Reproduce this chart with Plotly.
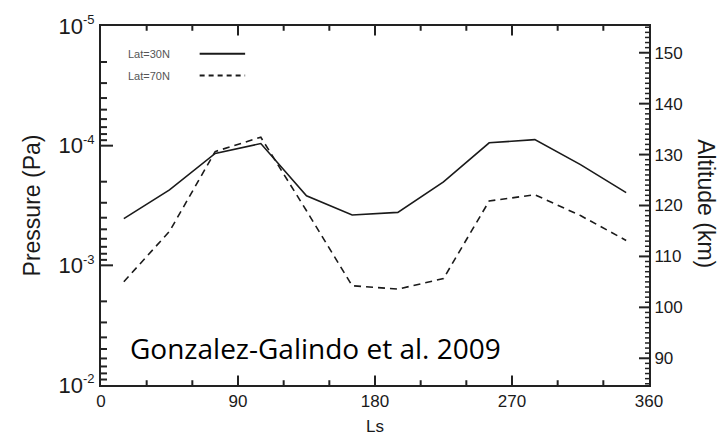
import math
import plotly.graph_objects as go

# ---- data ----
ls = [15, 45, 75, 105, 135, 165, 195, 225, 255, 285, 315, 345]
p_lat30 = [4.07e-4, 2.34e-4, 1.16e-4, 9.6e-5, 2.62e-4, 3.8e-4, 3.61e-4, 2.01e-4, 9.46e-5, 8.9e-5, 1.44e-4, 2.47e-4]
p_lat70 = [1.37e-3, 5.2e-4, 1.12e-4, 8.5e-5, 3.5e-4, 1.48e-3, 1.58e-3, 1.29e-3, 2.9e-4, 2.57e-4, 3.84e-4, 6.2e-4]
series_names = ["Lat=30N", "Lat=70N"]
x_major = [0, 90, 180, 270, 360]
x_minor = [30, 60, 120, 150, 210, 240, 300, 330]
p_ticks = [1e-5, 1e-4, 1e-3, 1e-2]
p_exponents = ["-5", "-4", "-3", "-2"]
p_minor = [m * 10.0 ** e for e in (-5, -4, -3) for m in range(2, 10)]
alt_major = [90, 100, 110, 120, 130, 140, 150]
alt_minor = [a for a in range(85, 156) if a % 10 != 0]
citation = "Gonzalez-Galindo et al. 2009"

INK = "#1a1a1a"
AX = "#222222"
FONT = "Liberation Sans, Arial, sans-serif"
X_RANGE = [0, 360]
P_RANGE = [-2, -5]          # log10 range, reversed (low pressure at top)
ALT_RANGE = [84.75, 155.25]
W, H = 722, 445
ML, MR, MT, MB = 101, 73, 12, 57
PW, PH = W - ML - MR, H - MT - MB

p_ticktext = ["10<sup><span style='font-size:13px'>%s</span></sup>" % e for e in p_exponents]

fig = go.Figure()
fig.add_trace(go.Scatter(x=ls, y=p_lat30, mode="lines", name=series_names[0],
                         line=dict(color=INK, width=1.6), showlegend=False))
fig.add_trace(go.Scatter(x=ls, y=p_lat70, mode="lines", name=series_names[1],
                         line=dict(color=INK, width=1.6, dash="7px,5px"), showlegend=False))
fig.add_trace(go.Scatter(x=[], y=[], yaxis="y2", showlegend=False, hoverinfo="skip"))

# ---- inward tick marks as line segments in the main subplot's own coordinates ----
x_per_px = (X_RANGE[1] - X_RANGE[0]) / PW
dec_per_px = abs(P_RANGE[1] - P_RANGE[0]) / PH
p_bottom = 10.0 ** P_RANGE[0]
p_top = 10.0 ** P_RANGE[1]

def alt_to_p(a):
    f = (a - ALT_RANGE[0]) / (ALT_RANGE[1] - ALT_RANGE[0])
    return 10.0 ** (P_RANGE[0] + f * (P_RANGE[1] - P_RANGE[0]))

def add_ticks(segments, width):
    xs, ys = [], []
    for x0, y0, x1, y1 in segments:
        xs += [x0, x1, None]
        ys += [y0, y1, None]
    fig.add_trace(go.Scatter(x=xs, y=ys, mode="lines", line=dict(color=AX, width=width),
                             cliponaxis=False, showlegend=False, hoverinfo="skip"))

def x_segments(vals, length_px):
    d = length_px * dec_per_px
    segs = []
    for v in vals:
        segs.append((v, p_bottom, v, p_bottom * 10.0 ** (-d)))
        segs.append((v, p_top, v, p_top * 10.0 ** d))
    return segs

add_ticks(x_segments(x_major[1:-1], 10), 2)
add_ticks(x_segments(x_minor, 5), 2)
add_ticks([(X_RANGE[0], v, X_RANGE[0] + 12 * x_per_px, v) for v in p_ticks[1:-1]], 2)
add_ticks([(X_RANGE[0], v, X_RANGE[0] + 6 * x_per_px, v) for v in p_minor], 2)
add_ticks([(X_RANGE[1], alt_to_p(a), X_RANGE[1] - 10 * x_per_px, alt_to_p(a)) for a in alt_major], 2)
add_ticks([(X_RANGE[1], alt_to_p(a), X_RANGE[1] - 4 * x_per_px, alt_to_p(a)) for a in alt_minor], 1.5)

common = dict(showgrid=False, zeroline=False, ticks="")

fig.update_layout(
    width=W, height=H,
    margin=dict(l=ML, r=MR, t=MT, b=MB),
    paper_bgcolor="white", plot_bgcolor="rgba(0,0,0,0)",
    font=dict(family=FONT, size=17, color=INK),
    xaxis=dict(
        range=X_RANGE, tickmode="array", tickvals=x_major,
        showline=True, linecolor=AX, linewidth=2, mirror=True,
        title=dict(text="Ls", font=dict(size=17), standoff=10),
        tickfont=dict(size=17), **common,
    ),
    yaxis=dict(
        type="log", range=P_RANGE, tickmode="array", tickvals=p_ticks, ticktext=p_ticktext,
        showline=True, linecolor=AX, linewidth=2,
        title=dict(text="Pressure (Pa)", font=dict(size=23), standoff=12),
        tickfont=dict(size=22), **common,
    ),
    yaxis2=dict(
        overlaying="y", side="right", anchor="x", range=ALT_RANGE,
        tickmode="array", tickvals=alt_major,
        showline=True, linecolor=AX, linewidth=2,
        tickfont=dict(size=17), **common,
    ),
)

# right axis title (reads top to bottom)
fig.add_annotation(text="Altitude (km)", xref="paper", yref="paper", x=1.105, y=0.505,
                   xanchor="center", yanchor="middle",
                   textangle=90, showarrow=False, font=dict(size=23, color=INK))

# legend (text left, line sample right)
for i, name in enumerate(series_names):
    yy = 0.923 - i * 0.061
    fig.add_annotation(text=name, xref="paper", yref="paper", x=0.046, y=yy,
                       xanchor="left", yanchor="middle", showarrow=False,
                       font=dict(size=11, color="#555555"))
    fig.add_shape(type="line", xref="paper", yref="paper", x0=0.18, x1=0.263, y0=yy, y1=yy,
                  line=dict(color=INK, width=2, dash="solid" if i == 0 else "5px,4px"))

# citation text
fig.add_annotation(text=citation, xref="paper", yref="paper", x=0.05, y=0.102,
                   xanchor="left", yanchor="middle", showarrow=False,
                   font=dict(family="Open Sans", size=28, color="black"))

fig.write_html("out.html")
